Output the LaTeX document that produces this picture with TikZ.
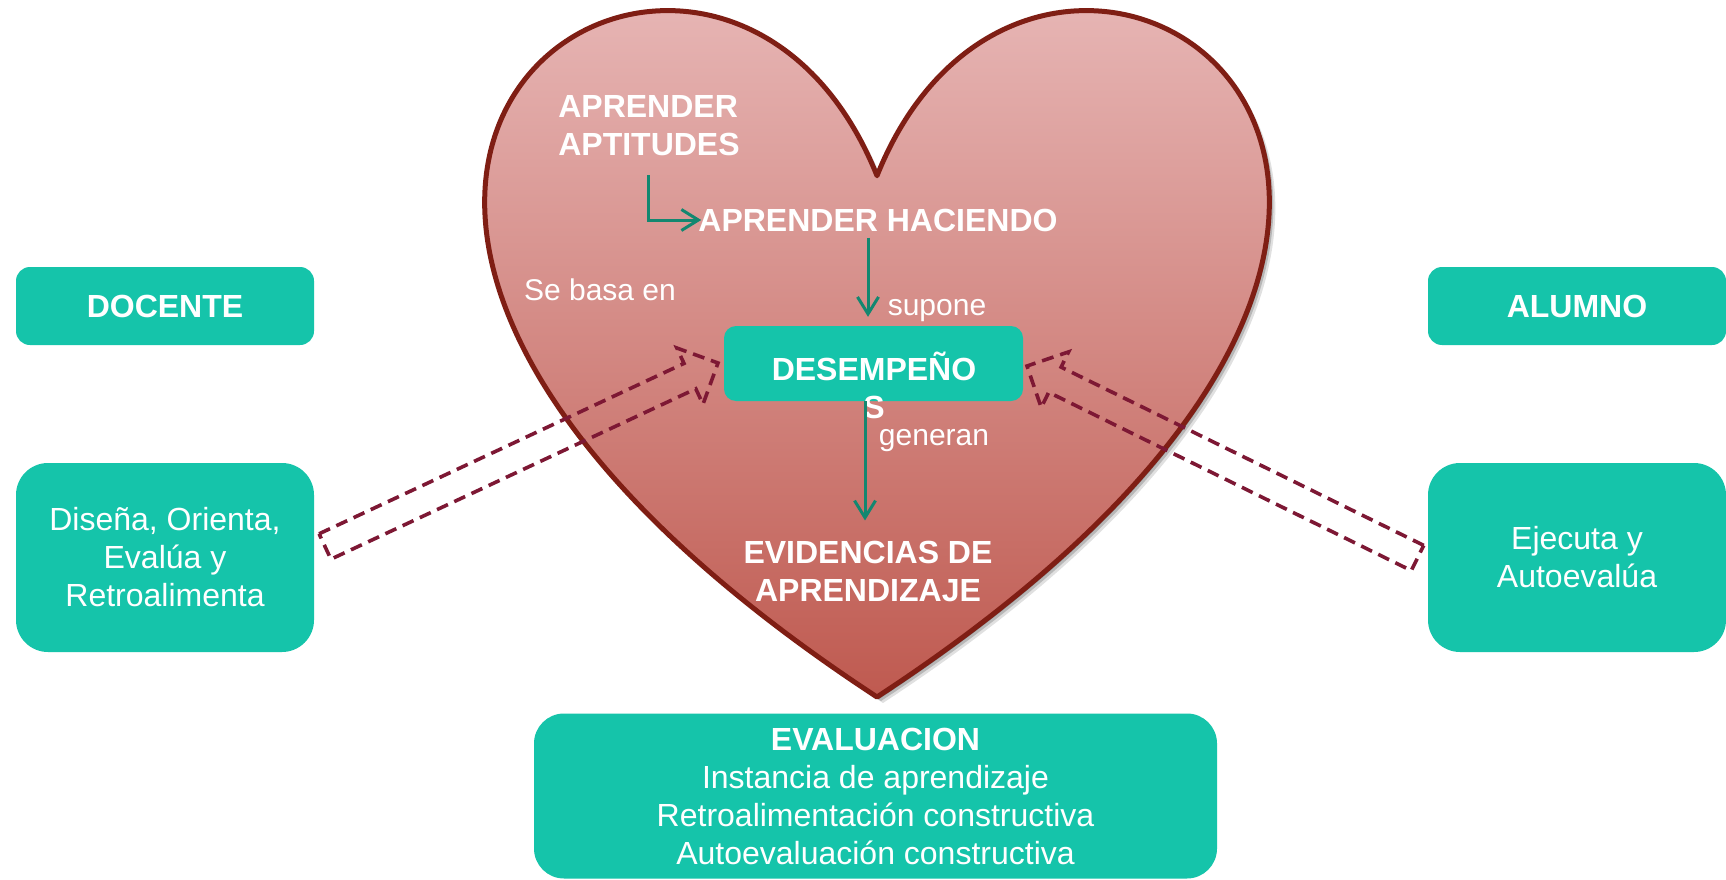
\documentclass[tikz,border=0pt]{standalone}
\usepackage{fontspec}
\setmainfont{Liberation Sans}
\usetikzlibrary{arrows.meta}
\definecolor{boxteal}{RGB}{21,196,170}
\definecolor{arrteal}{RGB}{19,135,112}
\definecolor{heartline}{RGB}{127,30,20}
\definecolor{dashred}{RGB}{125,24,52}
\definecolor{htop}{RGB}{230,180,179}
\definecolor{hmid}{RGB}{214,158,157}
\definecolor{hbot}{RGB}{191,90,80}
\newcommand\HeartP[1]{\path[#1] (877,175.75) .. controls (1039.3,-229.7) and (1672.2,175.75) .. (877,697) .. controls (81.8,175.75) and (714.7,-229.7) .. (877,175.75) -- cycle;}
\tikzset{
 tbox/.style={fill=boxteal, draw=none, text=white, align=center, inner sep=0pt},
 regf/.style={font=\fontsize{32}{38}\selectfont},
 smallf/.style={font=\fontsize{30}{36}\selectfont},
 boldf/.style={font=\fontsize{32}{38}\selectfont\bfseries},
 lbl/.style={text=white, align=center, inner sep=0pt, smallf},
 blbl/.style={text=white, align=center, inner sep=0pt, boldf},
 conn/.style={draw=arrteal, line width=3pt, -{Straight Barb[length=17pt,width=21pt]}},
 blockarr/.style={draw=dashred, line width=3.6pt, dash pattern=on 12pt off 7pt, line join=miter},
}
\begin{document}
\begin{tikzpicture}[x=1pt,y=-1pt]
\useasboundingbox (0,0) rectangle (1726,880);
\fill[white] (0,0) rectangle (1726,880);

% side boxes
\node[tbox, boldf, rounded corners=14pt, minimum width=298pt, minimum height=78pt] (docente) at (165,306) {DOCENTE};
\node[tbox, regf, rounded corners=32pt, minimum width=298pt, minimum height=189pt] (disena) at (165,557.5) {Diseña, Orienta,\\Evalúa y\\Retroalimenta};
\node[tbox, boldf, rounded corners=14pt, minimum width=298pt, minimum height=78pt] (alumno) at (1577,306) {ALUMNO};
\node[tbox, regf, rounded corners=32pt, minimum width=298pt, minimum height=189pt] (ejecuta) at (1577,557.5) {Ejecuta y\\Autoevalúa};

% heart shadow
\HeartP{fill=black, opacity=0.12, shift={(6,6)}}
\HeartP{fill=black, opacity=0.18, shift={(4,4)}}
\HeartP{fill=black, opacity=0.25, shift={(2,2)}}
% heart fill
\begin{scope}
\HeartP{clip}
\shade[top color=htop, middle color=hmid, bottom color=hbot] (470,10) rectangle (1290,697);
\end{scope}
\HeartP{draw=heartline, line width=5pt, line join=round}

% evaluation box
\node[tbox, rounded corners=30pt, minimum width=683pt, minimum height=165pt, regf] (eval) at (875.5,796) {{\bfseries EVALUACION}\\Instancia de aprendizaje\\Retroalimentación constructiva\\Autoevaluación constructiva};

% desempenos box
\node[tbox, rounded corners=12pt, minimum width=299pt, minimum height=75pt] (desemp) at (873.5,363.5) {};

% heart texts
\node[blbl, align=left] (apt) at (649,126) {APRENDER\\APTITUDES};
\node[blbl] (hac) at (878,220) {APRENDER HACIENDO};
\node[lbl] (sebasa) at (600,290) {Se basa en};
\node[lbl] (supone) at (937,311) {supone};
\node[blbl] (desT) at (874,385) {DESEMPEÑO\\S};
\node[lbl] (generan) at (934,441) {generan};
\node[blbl] (evid) at (868,571) {EVIDENCIAS DE\\APRENDIZAJE};

% green connectors
\coordinate (a1) at (648,175);
\draw[conn] (a1) |- ([xshift=3pt]hac.west);
\draw[conn] ([xshift=-10pt,yshift=-6pt]hac.south) -- ([xshift=-5.5pt,yshift=9pt]desemp.north);
\draw[conn] ([xshift=-8.5pt]desemp.south) -- ([xshift=-3pt,yshift=20pt]evid.north);

% dashed block arrows
\coordinate (L1) at (319.1,533.8);
\coordinate (L2) at (684.0,363.4);
\coordinate (L3) at (676.8,348.0);
\coordinate (L4) at (718,363);
\coordinate (L5) at (703.0,404.2);
\coordinate (L6) at (695.8,388.8);
\coordinate (L7) at (330.9,559.2);
\draw[blockarr] (L1) -- (L2) -- (L3) -- (L4) -- (L5) -- (L6) -- (L7) -- cycle;
\coordinate (R1) at (1423.7,545.4);
\coordinate (R2) at (1061.1,367.1);
\coordinate (R3) at (1068.6,351.9);
\coordinate (R4) at (1027,366);
\coordinate (R5) at (1041.2,407.5);
\coordinate (R6) at (1048.7,392.3);
\coordinate (R7) at (1411.3,570.6);
\draw[blockarr] (R1) -- (R2) -- (R3) -- (R4) -- (R5) -- (R6) -- (R7) -- cycle;
\end{tikzpicture}
\end{document}
